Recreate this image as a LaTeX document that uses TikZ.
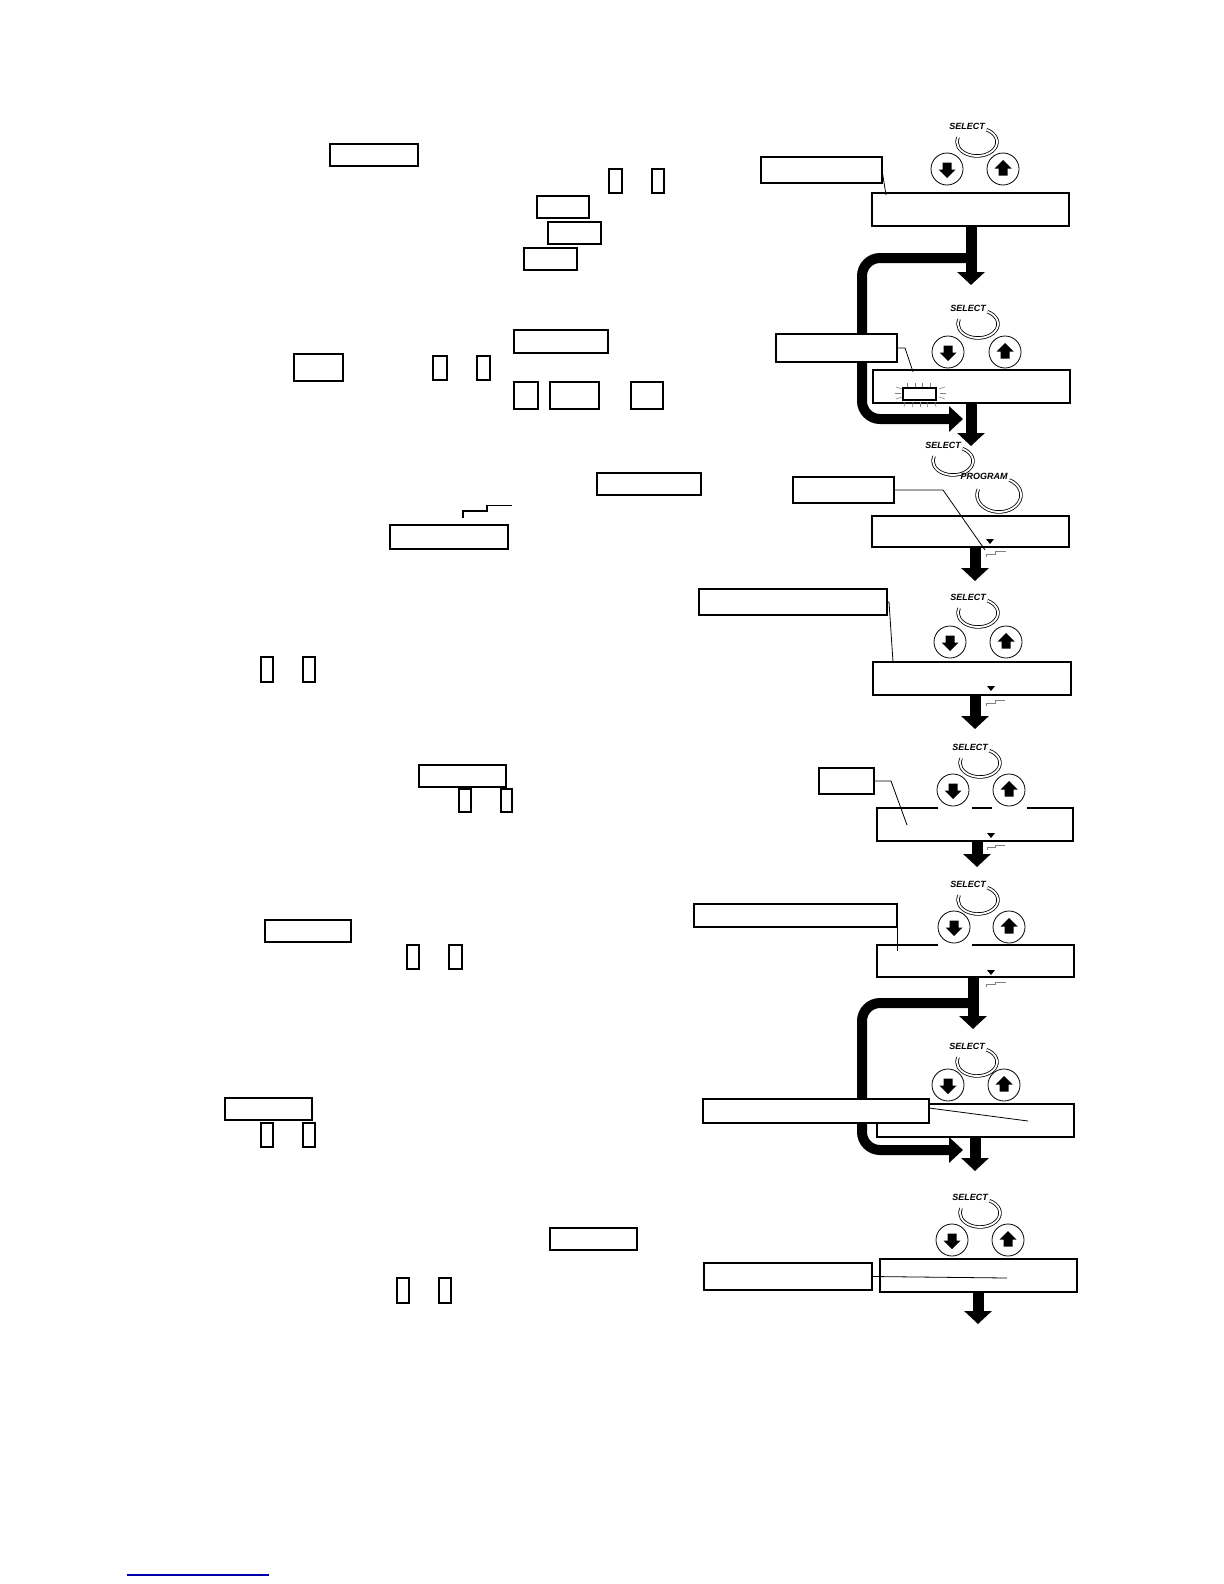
\documentclass[tikz,border=0pt]{standalone}
\usepackage{fontspec}
\newfontfamily\lab{Liberation Sans}
\usetikzlibrary{arrows.meta}
\newcommand\pbox[6]{\node[#2, minimum width={(#5-#3)*0.5pt}, minimum height={(#6-#4)*0.5pt}] (#1) at ({(#3+#5)/2},{(#4+#6)/2}) {};}
\begin{document}
\begin{tikzpicture}[x=0.5pt,y=-0.5pt,
  box/.style={draw, line width=0.9pt, fill=white, inner sep=0pt, outer sep=0pt},
  disp/.style={draw, line width=0.7pt, fill=white, inner sep=0pt, outer sep=0pt},
  callout/.style={draw, line width=0.7pt, fill=white, inner sep=0pt, outer sep=0pt},
  leader/.style={line width=0.4pt},
  btn/.style={circle, draw, line width=0.4pt, fill=white, minimum size=16pt, inner sep=0pt, outer sep=0pt},
  flow/.style={line width=5.5pt, -{Triangle[length=6.5pt,width=13.5pt]}},
  loopflow/.style={line width=5pt, rounded corners=9pt, -{Triangle[length=7pt,width=12.5pt]}},
  ring/.style={double, double distance=0.9pt, line width=0.4pt},
  lbl/.style={font=\lab\bfseries\itshape\fontsize{4.5}{5}\selectfont, inner sep=0pt},
  stepsym/.style={line width=0.4pt, gray},
  rays/.style={line width=0.3pt, gray},
  pics/dn/.style={code={\fill (-4.5,-6.5) -- (4.5,-6.5) -- (4.5,0.5) -- (8.5,0.5) -- (0,9) -- (-8.5,0.5) -- (-4.5,0.5) -- cycle;}},
  pics/up/.style={code={\fill (-4.5,6.5) -- (4.5,6.5) -- (4.5,-0.5) -- (8.5,-0.5) -- (0,-9) -- (-8.5,-0.5) -- (-4.5,-0.5) -- cycle;}}
]
\useasboundingbox (0,0) rectangle (1224,1584);
\fill[white] (0,0) rectangle (1224,1584);

% ---------- left column boxes ----------
\pbox{l1}{box}{330}{144}{418}{166}
\pbox{l2}{box}{609}{169}{622}{193}
\pbox{l3}{box}{652}{169}{664}{193}
\pbox{l4}{box}{537}{196}{589}{218}
\pbox{l5}{box}{548}{222}{601}{244}
\pbox{l6}{box}{524}{248}{577}{270}
\pbox{l7}{box}{514}{330}{608}{353}
\pbox{l8}{box}{294}{354}{343}{381}
\pbox{l9}{box}{433}{356}{447}{380}
\pbox{l10}{box}{477}{356}{490}{380}
\pbox{l11}{box}{514}{382}{538}{409}
\pbox{l12}{box}{550}{382}{599}{409}
\pbox{l13}{box}{631}{382}{663}{409}
\pbox{l14}{box}{597}{473}{701}{495}
\pbox{l15}{box}{390}{525}{508}{549}
\pbox{l16}{box}{261}{657}{273}{682}
\pbox{l17}{box}{303}{657}{315}{682}
\pbox{l18}{box}{419}{765}{506}{787}
\pbox{l19}{box}{459}{789}{471}{812}
\pbox{l20}{box}{501}{789}{512}{812}
\pbox{l21}{box}{265}{920}{351}{942}
\pbox{l22}{box}{407}{945}{419}{969}
\pbox{l23}{box}{449}{945}{462}{969}
\pbox{l24}{box}{225}{1098}{312}{1120}
\pbox{l25}{box}{261}{1123}{273}{1147}
\pbox{l26}{box}{303}{1123}{315}{1147}
\pbox{l27}{box}{550}{1228}{637}{1250}
\pbox{l28}{box}{397}{1278}{409}{1303}
\pbox{l29}{box}{439}{1278}{451}{1303}
% step symbol in text
\draw[line width=1.3pt] (463,518) -- (463,511) -- (487,511) -- (487,505);
\draw[line width=0.5pt] (487,505) -- (512,505);

% ---------- loops ----------
\coordinate (j1) at (975,258);
\coordinate (t1) at (963,419);
\draw[loopflow] (j1) -- (862,258) -- (862,419) -- (t1);
\coordinate (j2) at (975,1003);
\coordinate (t2) at (963,1150);
\draw[loopflow] (j2) -- (862,1003) -- (862,1150) -- (t2);

% ---------- displays ----------
\pbox{d1}{disp}{872}{193}{1069}{226}
\pbox{d2}{disp}{873}{370}{1070}{403}
\pbox{d3}{disp}{872}{516}{1069}{547}
\pbox{d4}{disp}{873}{662}{1071}{695}
\pbox{d5}{disp}{877}{808}{1073}{841}
\pbox{d6}{disp}{877}{945}{1074}{977}
\pbox{d7}{disp}{877}{1104}{1074}{1137}
\pbox{d8}{disp}{880}{1259}{1077}{1292}
% gaps in display tops
\draw[white, line width=1.2pt] (938,808) -- (972,808);
\draw[white, line width=1.2pt] (992,808) -- (1027,808);
\draw[white, line width=1.2pt] (938,945) -- (972,945);

% blinking cursor in display 2
\node[draw, line width=0.6pt, inner sep=0pt, minimum width=16.5pt, minimum height=6pt] (cur) at (919.5,394) {};
\foreach \xx in {907,915,922,930} \draw[rays] (\xx,383) -- (\xx,387);
\foreach \xx/\dx in {905/-1,913/-0.5,920/0,927/0.5,935/1} \draw[rays] (\xx,402) -- (\xx+\dx,407);
\draw[rays] (896,387) -- (902,389);
\draw[rays] (895,393) -- (901,393);
\draw[rays] (896,399) -- (902,397);
\draw[rays] (939,389) -- (945,387);
\draw[rays] (940,393) -- (946,393);
\draw[rays] (939,397) -- (945,399);

% markers and step symbols
\foreach \mx/\my in {990/539, 991/686, 991/833, 991/970}
  \fill (\mx-4,\my) -- (\mx+4,\my) -- (\mx,\my+5) -- cycle;
\draw[stepsym] (986,557) -- (986,554) -- (995,554) -- (995,551) -- (1006,551);
\draw[stepsym] (986,706) -- (986,703) -- (995,703) -- (995,700) -- (1005,700);
\draw[stepsym] (987,850) -- (987,847) -- (995,847) -- (995,845) -- (1005,845);
\draw[stepsym] (986,987) -- (986,984) -- (995,984) -- (995,982) -- (1006,982);

% ---------- callouts ----------
\pbox{c1}{callout}{761}{157}{882}{183}
\pbox{c2}{callout}{776}{334}{897}{362}
\pbox{c3}{callout}{793}{477}{894}{503}
\pbox{c4}{callout}{699}{589}{887}{615}
\pbox{c5}{callout}{819}{768}{874}{794}
\pbox{c6}{callout}{694}{904}{897}{927}
\pbox{c7}{callout}{703}{1099}{929}{1123}
\pbox{c8}{callout}{704}{1263}{872}{1290}
\coordinate (e1) at (886,195);
\coordinate (e2) at (913,372);
\coordinate (e3) at (985,550);
\coordinate (e4) at (893,662);
\coordinate (e5) at (907,825);
\coordinate (e6) at (897,951);
\coordinate (e7) at (1028,1121);
\coordinate (e8) at (1007,1278);
\draw[leader] (c1.east) -- (e1);
\draw[leader] (c2.east) -- (905,348) -- (e2);
\draw[leader] (c3.east) -- (943,490) -- (e3);
\draw[leader] (c4.east) -- (889,602) -- (e4);
\draw[leader] (c5.east) -- (891,781) -- (e5);
\draw[leader] (c6.south east) -- (e6);
\draw[leader] ([yshift=1.5pt]c7.east) -- (e7);
\draw[leader] (c8.east) -- (e8);

% ---------- buttons ----------
\foreach \n/\dx/\ux/\yy in {1/947/1003/169, 2/948/1005/352, 4/950/1006/642, 5/953/1009/790, 6/954/1009/927, 7/948/1004/1085, 8/952/1008/1240}{
  \node[btn] (bd\n) at (\dx,\yy) {};
  \node[btn] (bu\n) at (\ux,\yy) {};
  \pic at (bd\n) {dn};
  \pic at (bu\n) {up};
}

% ---------- SELECT rings ----------
\foreach \n/\tx/\ty in {1/967/126, 2/968/308, 3/943/445, 4/968/597, 5/970/747, 6/968/884, 7/967/1046, 8/970/1197}{
  \node[lbl] (s\n) at (\tx,\ty) {SELECT};
  \draw[ring] (\tx+10,\ty+16) ++(-62:20 and 14) arc[start angle=-62, end angle=200, x radius=20, y radius=14];
}
\node[lbl] (p3) at (984,476) {PROGRAM};
\draw[ring] (999,495) ++(-62:22 and 17) arc[start angle=-62, end angle=200, x radius=22, y radius=17];

% ---------- main flow arrows ----------
\coordinate (a1) at (971,285);
\coordinate (a2) at (971,446);
\coordinate (a3) at (975,581);
\coordinate (a4) at (975,729);
\coordinate (a5) at (977,867);
\coordinate (a6) at (973,1029);
\coordinate (a7) at (975,1171);
\coordinate (a8) at (978,1324);
\draw[flow] (d1.south -| a1) -- (a1);
\draw[flow] (d2.south -| a2) -- (a2);
\draw[flow] (d3.south -| a3) -- (a3);
\draw[flow] (d4.south -| a4) -- (a4);
\draw[flow] (d5.south -| a5) -- (a5);
\draw[flow] (d6.south -| a6) -- (a6);
\draw[flow] (d7.south -| a7) -- (a7);
\draw[flow] (d8.south -| a8) -- (a8);

% ---------- footnote rule ----------
\coordinate (f1) at (127,1575);
\coordinate (f2) at (269,1575);
\draw[line width=0.8pt, color={rgb,255:red,0;green,0;blue,170}] (f1) -- (f2);
\end{tikzpicture}
\end{document}
